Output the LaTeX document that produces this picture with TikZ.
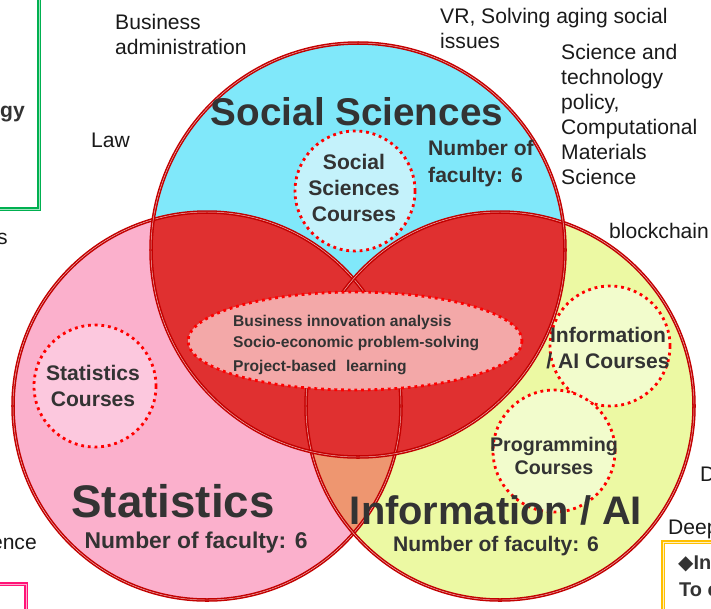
\documentclass[tikz,border=0pt]{standalone}
\usepackage{fontspec}
\setmainfont{Liberation Sans}
\newfontfamily\symfont{DejaVu Sans}
\usepackage{xcolor}
\usetikzlibrary{positioning}
\definecolor{socialfill}{RGB}{128,232,250}
\definecolor{statfill}{RGB}{251,176,204}
\definecolor{infofill}{RGB}{236,249,163}
\definecolor{overlapred}{RGB}{224,48,48}
\definecolor{overlaporange}{RGB}{238,150,112}
\definecolor{edgered}{RGB}{195,0,0}
\definecolor{edgeinner}{RGB}{238,190,190}
\definecolor{dotred}{RGB}{255,0,0}
\definecolor{socialcourse}{RGB}{196,242,251}
\definecolor{statcourse}{RGB}{252,200,222}
\definecolor{infocourse}{RGB}{242,252,204}
\definecolor{centrefill}{RGB}{243,168,168}
\definecolor{darktext}{RGB}{51,51,51}
\definecolor{plaintext}{RGB}{26,26,26}
\definecolor{boxgreen}{RGB}{0,176,80}
\definecolor{boxpink}{RGB}{255,20,120}
\definecolor{boxyellow}{RGB}{255,192,0}
\tikzset{
  basenode/.style = {inner sep=0pt, align=center, text centered},
  title_node/.style = {basenode, text=darktext, font=\bfseries\fontsize{33}{36}\selectfont},
  count_node/.style = {basenode, text=darktext, font=\bfseries\fontsize{18}{23}\selectfont},
  course_node/.style = {basenode, text=darktext, font=\bfseries\fontsize{18}{22}\selectfont},
  centre_node/.style = {basenode, align=left, text=darktext, font=\bfseries\fontsize{13.3}{18}\selectfont},
  note_node/.style = {basenode, align=left, anchor=base west, text=plaintext, font=\fontsize{18}{21.3}\selectfont},
  cut_node/.style = {basenode, text=darktext, font=\bfseries\fontsize{17}{22}\selectfont},
  venn_edge/.style = {draw=edgered, line width=1.3pt, double=edgeinner, double distance=0.4pt},
  course_ring/.style = {draw=dotred, line width=2.4pt, dash pattern=on 2.4pt off 3.3pt},
  frame_box/.style = {line width=1.1pt, double distance=0.6pt},
}
\begin{document}
\begin{tikzpicture}[x=0.03cm, y=-0.03cm]
    \useasboundingbox (0,0) rectangle (711,608);
    % frames cut by the slide edge
    \draw[frame_box, draw=boxgreen, double=boxgreen!35] (-20,-20) rectangle (39,209);
    \draw[frame_box, draw=boxpink, double=boxpink!35] (-20,584) rectangle (26,640);
    \draw[frame_box, draw=boxyellow, double=boxyellow!25, fill=white] (663,542) rectangle (740,640);

    % three fields
    \fill[statfill] (207,406) circle (194);
    \fill[infofill] (500,406) circle (194);
    \begin{scope}
        \clip (207,406) circle (194);
        \fill[overlaporange] (500,406) circle (194);
    \end{scope}
    \fill[socialfill] (358,250) circle (207);
    \begin{scope}
        \clip (358,250) circle (207);
        \fill[overlapred] (207,406) circle (194) (500,406) circle (194);
    \end{scope}
    \draw[venn_edge] (207,406) circle (194);
    \draw[venn_edge] (500,406) circle (194);
    \draw[venn_edge] (358,250) circle (207);

    % course rings
    \draw[course_ring, fill=socialcourse] (355,191) circle (60);
    \draw[course_ring, fill=statcourse] (95,386) circle (61);
    \draw[course_ring, fill=infocourse] (610,346) circle (60);
    \draw[course_ring, fill=infocourse] (554,451) circle (61);
    \draw[course_ring, fill=centrefill] (355,341) ellipse (167 and 49);

    % titles and counts
    \node[title_node] (social) at (357,112) {Social Sciences};
    \node[title_node, font=\bfseries\fontsize{39}{42}\selectfont] (stat) at (173,501) {Statistics};
    \node[title_node, font=\bfseries\fontsize{34}{38}\selectfont] (info) at (496,510) {Information / AI};
    \node[count_node, align=left, anchor=west] (socialcount) at (428,164) {Number of\\faculty: 6};
    \node[count_node, font=\bfseries\fontsize{19.5}{23}\selectfont] (statcount) at (196,543) {Number of faculty: 6};
    \node[count_node] (infocount) at (496,546) {Number of faculty: 6};

    % courses
    \node[course_node] (socialcourses) at (354,188) {Social\\Sciences\\Courses};
    \node[course_node] (statcourses) at (93,386) {Statistics\\Courses};
    \node[course_node] (infocourses) at (608,348) {Information\\/ AI Courses};
    \node[course_node, font=\bfseries\fontsize{16.8}{19}\selectfont] (progcourses) at (554,456) {Programming\\Courses};
    \node[centre_node, anchor=west] (centre) at (233,345)
        {Business innovation analysis\\Socio-economic problem-solving\\[3pt]Project-based\hspace{0.35em} learning};

    % surrounding notes (base = last line)
    \node[note_node] (business) at (115,54) {Business\\administration};
    \node[note_node] (law) at (91,147) {Law};
    \node[note_node] (vr) at (440,48) {VR, Solving aging social\\issues};
    \node[note_node] (policy) at (561,184) {Science and\\technology\\policy,\\Computational\\Materials\\Science};
    \node[note_node] (blockchain) at (609,238) {blockchain};
    \node[note_node, anchor=base east] (cutleft) at (8,244) {s};
    \node[note_node, anchor=base east] (cutence) at (37,549) {ence};
    \node[note_node] (cutd) at (700,481) {D};
    \node[note_node] (cutdeep) at (668,534) {Deep};
    \node[cut_node, anchor=base east, font=\bfseries\fontsize{18}{22}\selectfont] (cutgy) at (25,117) {gy};
    \node[cut_node, anchor=base west] (cutin) at (678,569) {{\symfont ◆}In};
    \node[cut_node, anchor=base west] (cutto) at (679,596) {To c};
\end{tikzpicture}
\end{document}
